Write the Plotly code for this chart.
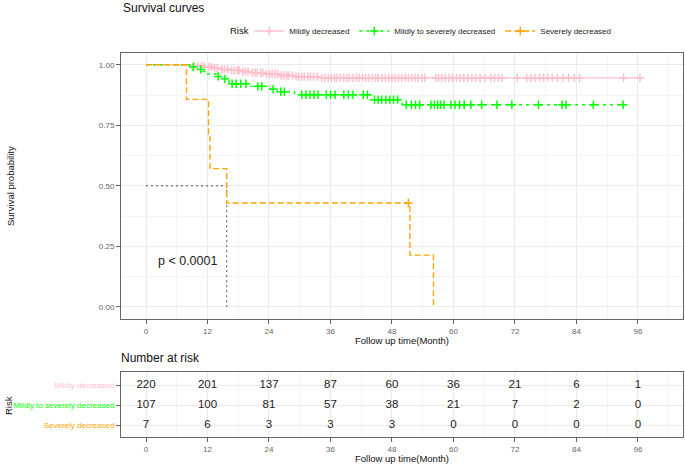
import plotly.graph_objects as go

# ---------------- data ----------------
groups = ["Mildly decreased", "Mildly to severely decreased", "Severely decreased"]
colors = ["#FFC0CB", "#00FF00", "#FFA500"]
dashes = ["solid", "3px,4px", "6px,3px"]

# Kaplan-Meier steps (event time in months, survival after the event)
mild_event_t = [8.8, 11.0, 13.0, 14.5, 16.5, 18.5, 20.5, 23.0, 26.0, 29.0, 34.0]
mild_surv = [0.995, 0.991, 0.986, 0.981, 0.977, 0.972, 0.967, 0.962, 0.956, 0.951, 0.946]
mild_end = 96.4
mild_censor = [9.5, 10.1, 10.9, 11.4, 12.3, 12.8, 13.4, 13.9, 14.8, 15.3, 15.9, 16.7, 17.2, 17.8,
               18.2, 18.9, 19.4, 19.9, 20.8, 21.3, 21.7, 22.4, 22.8, 23.5, 24.1, 24.6, 25.2, 25.7,
               26.4, 26.9, 27.5, 27.9, 28.6, 29.3, 29.8, 30.4, 30.9, 31.6, 32.1, 32.7, 33.4, 34.3,
               34.9, 35.6, 36.2, 36.8, 37.3, 37.9, 38.6, 39.2, 39.7, 40.4, 41.1, 41.6, 42.3, 42.9,
               43.5, 44.2, 44.8, 45.3, 46.1, 46.7, 47.4, 48.0, 48.6, 49.3, 49.9, 50.6, 51.2, 51.9,
               52.5, 53.1, 53.8, 54.4, 56.6, 57.1, 57.7, 58.4, 59.1, 59.8, 60.6, 61.3, 62.0, 62.8,
               63.6, 64.3, 65.2, 66.1, 67.3, 68.0, 68.8, 69.5, 72.4, 74.3, 75.1, 75.9, 76.8, 77.6,
               78.4, 79.3, 80.3, 81.4, 82.5, 83.6, 84.6, 93.2, 96.4]

mts_event_t = [8.5, 10.0, 10.8, 11.5, 13.8, 15.2, 16.2, 20.5, 24.2, 25.6, 29.0, 43.8, 50.0]
mts_surv = [0.991, 0.981, 0.972, 0.962, 0.952, 0.942, 0.922, 0.911, 0.899, 0.889, 0.876, 0.856, 0.835]
mts_end = 93.1
mts_censor = [9.2, 10.7, 14.1, 15.4, 16.8, 17.6, 18.5, 19.5, 21.8, 22.6, 24.8, 26.3, 27.0, 30.4,
              31.2, 32.0, 32.8, 33.6, 35.2, 36.0, 36.9, 38.6, 39.5, 40.4, 42.4, 43.2, 44.6, 45.3,
              46.0, 46.8, 47.6, 48.3, 49.1, 50.8, 51.8, 52.6, 53.4, 55.6, 56.3, 56.9, 57.5, 58.2,
              59.5, 60.3, 61.2, 62.1, 63.4, 65.5, 68.5, 71.4, 76.6, 81.2, 82.0, 87.3, 93.1]

sev_event_t = [7.9, 12.2, 12.5, 15.75, 51.5, 56.1]
sev_surv = [0.857, 0.714, 0.571, 0.429, 0.214, 0.0]
sev_end = 56.1
sev_censor = [51.2]

median_time = 15.75
median_surv = 0.5

risk_times = [0, 12, 24, 36, 48, 60, 72, 84, 96]
risk_mild = [220, 201, 137, 87, 60, 36, 21, 6, 1]
risk_mts = [107, 100, 81, 57, 38, 21, 7, 2, 0]
risk_sev = [7, 6, 3, 3, 3, 0, 0, 0, 0]

p_label = "p < 0.0001"
p_pos = (8.0, 0.19)

# ---------------- helpers ----------------
def step_xy(ev_t, surv, end):
    xs, ys = [0.0], [1.0]
    for t, s in zip(ev_t, surv):
        xs.append(t)
        ys.append(s)
    if end > xs[-1]:
        xs.append(end)
        ys.append(ys[-1])
    return xs, ys

def surv_at(ev_t, surv, t):
    s = 1.0
    for et, es in zip(ev_t, surv):
        if et <= t:
            s = es
    return s

FONT = "Liberation Sans, Arial, sans-serif"
fig = go.Figure()

curves = [
    (mild_event_t, mild_surv, mild_end, mild_censor),
    (mts_event_t, mts_surv, mts_end, mts_censor),
    (sev_event_t, sev_surv, sev_end, sev_censor),
]

# median reference lines
fig.add_trace(go.Scatter(x=[0, median_time, median_time], y=[median_surv, median_surv, 0],
                         mode="lines", line=dict(color="#555555", width=1, dash="2px,3px"),
                         showlegend=False, hoverinfo="skip", xaxis="x", yaxis="y"))

for (ev, sv, end, cen), name, col, dsh in zip(curves, groups, colors, dashes):
    xs, ys = step_xy(ev, sv, end)
    fig.add_trace(go.Scatter(x=xs, y=ys, mode="lines", line=dict(color=col, width=1.4, dash=dsh, shape="hv"),
                             showlegend=False, xaxis="x", yaxis="y"))
    fig.add_trace(go.Scatter(x=cen, y=[surv_at(ev, sv, t) for t in cen], mode="markers",
                             marker=dict(symbol="cross-thin", size=6, line=dict(color=col, width=1.5)),
                             showlegend=False, xaxis="x", yaxis="y"))
    fig.add_trace(go.Scatter(x=[None], y=[None], mode="lines+markers", name=name,
                             line=dict(color=col, width=1.4, dash=dsh),
                             marker=dict(symbol="cross-thin", size=6, line=dict(color=col, width=1.5)),
                             xaxis="x", yaxis="y"))

# risk table
for i, (vals, col) in enumerate(zip([risk_mild, risk_mts, risk_sev], colors)):
    fig.add_trace(go.Scatter(x=risk_times, y=[i + 1] * len(risk_times), mode="text",
                             text=[str(v) for v in vals],
                             textfont=dict(size=11.5, color="#222222", family=FONT),
                             showlegend=False, xaxis="x2", yaxis="y2"))

fig.add_annotation(x=p_pos[0], y=p_pos[1], xref="x", yref="y", text=p_label, showarrow=False,
                   font=dict(size=12.5, color="#222222", family=FONT))

W, H = 685, 464
x0, x1 = 121 / W, 683 / W
xr = [-4.88, 104.8]
axis_common = dict(showline=True, mirror=True, linecolor="#666666", linewidth=1,
                   ticks="outside", ticklen=4, tickcolor="#666666", tickwidth=1,
                   gridcolor="#EBEBEB", gridwidth=1, zeroline=False,
                   tickfont=dict(size=8, color="#666666", family=FONT))

fig.update_layout(
    width=W, height=H,
    margin=dict(l=0, r=0, t=0, b=0),
    paper_bgcolor="white", plot_bgcolor="white",
    font=dict(family=FONT, color="#222222"),
    xaxis=dict(domain=[x0, x1], range=xr, tickvals=risk_times, anchor="y",
               minor=dict(dtick=6, tick0=0, showgrid=True, gridcolor="#F4F4F4", gridwidth=0.6, ticks=""),
               **axis_common),
    yaxis=dict(domain=[(H - 319) / H, (H - 52.7) / H], range=[-0.05, 1.05],
               tickvals=[0, 0.25, 0.5, 0.75, 1.0], ticktext=["0.00", "0.25", "0.50", "0.75", "1.00"],
               minor=dict(dtick=0.125, tick0=0, showgrid=True, gridcolor="#F4F4F4", gridwidth=0.6, ticks=""),
               anchor="x", **axis_common),
    xaxis2=dict(domain=[x0, x1], range=xr, tickvals=risk_times, anchor="y2",
                minor=dict(dtick=6, tick0=0, showgrid=True, gridcolor="#F4F4F4", gridwidth=0.6, ticks=""),
                **axis_common),
    yaxis2=dict(domain=[27 / H, 92 / H], range=[3.6, 0.35], anchor="x2",
                tickvals=[1, 2, 3],
                ticktext=[f"<span style='color:{c}'>{g}</span>" for g, c in zip(groups, colors)],
                **{**axis_common, "tickfont": dict(size=8, family=FONT)}),
    legend=dict(orientation="h", x=0.364, xanchor="left", y=(H - 31) / H, yanchor="middle",
                font=dict(size=8, color="#222222", family=FONT), itemwidth=30,
                bgcolor="rgba(0,0,0,0)"),
    showlegend=True,
)

ann = [
    dict(text="Survival curves", x=121 / W, y=(H - 8) / H, xanchor="left", size=12),
    dict(text="Number at risk", x=119 / W, y=(H - 358) / H, xanchor="left", size=12),
    dict(text="Follow up time(Month)", x=402 / W, y=(H - 340) / H, xanchor="center", size=9.5),
    dict(text="Follow up time(Month)", x=402 / W, y=(H - 458) / H, xanchor="center", size=9.5),
    dict(text="Risk", x=251 / W, y=(H - 31) / H, xanchor="right", size=9.5),
]
for a in ann:
    fig.add_annotation(text=a["text"], x=a["x"], y=a["y"], xref="paper", yref="paper",
                       xanchor=a["xanchor"], yanchor="middle", showarrow=False,
                       font=dict(size=a["size"], color="#111111", family=FONT))
fig.add_annotation(text="Survival probability", x=10 / W, y=(H - 186) / H, xref="paper", yref="paper",
                   xanchor="center", yanchor="middle",
                   textangle=-90, showarrow=False, font=dict(size=9.5, color="#111111", family=FONT))
fig.add_annotation(text="Risk", x=8 / W, y=(H - 405) / H, xref="paper", yref="paper",
                   xanchor="center", yanchor="middle",
                   textangle=-90, showarrow=False, font=dict(size=9.5, color="#111111", family=FONT))

fig.write_html("out.html", config={"responsive": False, "displayModeBar": False},
               post_script="document.body.style.margin='0px';document.body.style.overflow='hidden';")
